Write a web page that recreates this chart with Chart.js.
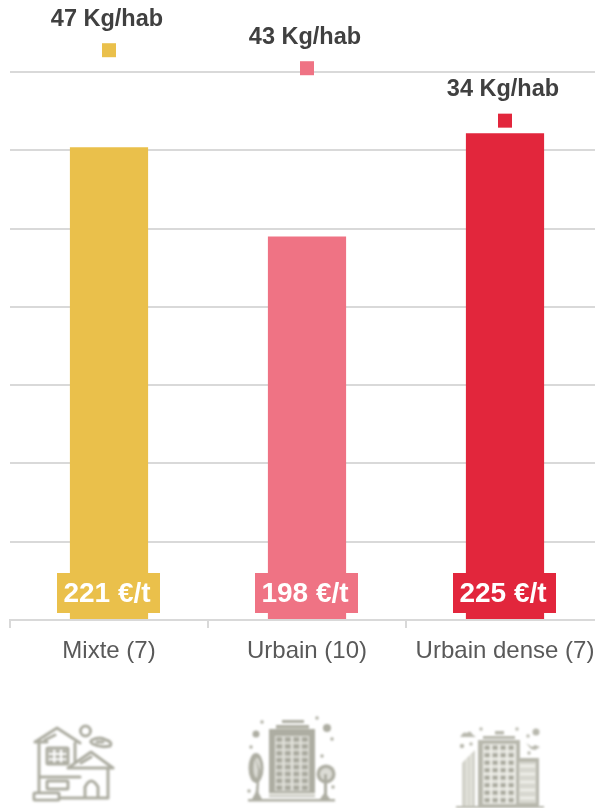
<!DOCTYPE html>
<html>
<head>
<meta charset="utf-8">
<script src="https://cdn.jsdelivr.net/npm/chart.js@4"></script>
<style>
html,body{margin:0;padding:0;background:#fff;overflow:hidden;width:595px;height:808px}
#wrap{position:absolute;left:0;top:0;width:595px;height:808px;overflow:hidden}
canvas{position:absolute;left:0;top:0}
svg{position:absolute;left:0;top:0}
</style>
</head>
<body>
<div id="wrap">
<canvas id="c" width="620" height="808"></canvas>
<svg width="595" height="808" viewBox="0 0 595 808" xmlns="http://www.w3.org/2000/svg">
<defs>
<filter id="b" x="-5%" y="-5%" width="110%" height="110%"><feGaussianBlur stdDeviation="1"/></filter>
<pattern id="g2" x="275" y="736" width="8.5" height="6.9" patternUnits="userSpaceOnUse"><rect x="1.300" y="1" width="6" height="5" fill="#a9a99e"/></pattern>
<pattern id="g3" x="483" y="744" width="8" height="7.5" patternUnits="userSpaceOnUse"><rect x="1.400" y="1.400" width="5.400" height="4.600" fill="#a9a99e"/></pattern>
<pattern id="g1" x="47.5" y="748.5" width="6.8" height="5.4" patternUnits="userSpaceOnUse"><rect x="1.200" y="1" width="4.400" height="3.400" fill="#b0b0a6"/></pattern>
</defs>
<g filter="url(#b)" fill="none" stroke="#adada2" stroke-width="3" stroke-linejoin="round" stroke-linecap="round">
<path d="M35 742 L57 728 L80 743 M35 742 H47 M55 735 L45 740 M39 742 V793 M75 743 V762 M68 768 L91 752 L113 768 Z M81 763 L91 757 M108 768 V798 M39 777 H80 M39 798 H108 M85 798 V787 Q91 775 98 787 V798"/>
<rect x="47" y="748" width="21" height="16" rx="1" fill="url(#g1)"/>
<rect x="47" y="781" width="21" height="8" rx="1"/>
<rect x="34" y="793" width="25" height="7" rx="1" fill="#fff"/>
<circle cx="85.500" cy="731" r="5"/>
<path d="M92 740 Q100 736 106 740 Q113 742 110 746 Q100 748 93 744 Q89 742 92 740 Z M97 742 H103"/>
</g>
<g filter="url(#b)" fill="#adada2">
<rect x="282" y="720" width="22" height="3"/>
<rect x="276" y="725" width="33" height="3.500"/>
<rect x="269" y="729" width="46" height="68"/>
<rect x="275" y="736" width="34" height="55" fill="#e2e2db"/>
<rect x="275" y="736" width="34" height="55" fill="url(#g2)"/>
<rect x="248" y="799" width="87" height="2.500"/>
<rect x="269" y="793" width="46" height="3" fill="#e2e2db"/>
<ellipse cx="256" cy="768" rx="7.500" ry="15"/>
<ellipse cx="257" cy="768" rx="3.500" ry="10" fill="#dcdcd5"/>
<path d="M255 757 L258 770 L255 799 H258 L260 770 Z"/>
<circle cx="326" cy="774" r="9.500"/>
<circle cx="326" cy="774" r="6" fill="#dcdcd5"/>
<path d="M324 774 H327 V799 H324 Z M320 799 L325 792 L330 799 Z"/>
<path d="M252 799 L257 790 L262 799 Z"/>
<circle cx="256" cy="734" r="3.500"/>
<circle cx="327" cy="728" r="4"/>
<circle cx="262" cy="722" r="1.700"/>
<circle cx="317" cy="718" r="1.700"/>
<circle cx="332" cy="739" r="1.700"/>
<circle cx="251" cy="747" r="1.700"/>
<circle cx="322" cy="756" r="1.700"/>
<circle cx="249" cy="791" r="1.700"/>
<circle cx="333" cy="787" r="1.700"/>
</g>
<g filter="url(#b)" fill="#b8b8ad">
<rect x="495" y="731" width="9" height="3.500"/>
<rect x="483" y="736" width="32" height="3"/>
<rect x="478" y="740" width="42" height="68"/>
<rect x="483" y="744" width="33" height="60" fill="#eeeee8"/>
<rect x="483" y="744" width="33" height="60" fill="url(#g3)"/>
<path d="M462 763 L475 750 V808 H462 Z" fill="#d3d3cb"/>
<path d="M467 759 V808 M471 755 V808" stroke="#eeeee8" stroke-width="1.200" fill="none"/>
<rect x="516" y="758" width="23" height="48"/>
<rect x="519" y="762" width="17" height="41" fill="#d8d8d0"/>
<path d="M520 766 H535 M520 774 H535 M520 782 H535 M520 790 H535 M520 798 H535" stroke="#f0f0ea" stroke-width="2.400" fill="none"/>
<rect x="456" y="806" width="88" height="2"/>
<path d="M461 736 Q463 731 467 733 Q470 729 473 735 L476 737 H460 Z"/>
<circle cx="536" cy="732" r="3.500"/>
<circle cx="481" cy="729" r="1.700"/>
<circle cx="517" cy="729" r="1.700"/>
<circle cx="528" cy="736" r="1.700"/>
<circle cx="462" cy="746" r="2.200"/>
<circle cx="471" cy="744" r="1.700"/>
<circle cx="529" cy="753" r="1.700"/>
<path d="M526 743 L532 747 L535 745 L540 747 L535 750 L531 749 Z"/>
</g>
</svg>
</div>
<script>
const categories = ['Mixte (7)', 'Urbain (10)', 'Urbain dense (7)'];
const barValues = [302, 245, 311];
const markerValues = [364, 352.5, 319];
const priceLabels = ['221 €/t', '198 €/t', '225 €/t'];
const weightLabels = ['47 Kg/hab', '43 Kg/hab', '34 Kg/hab'];
const colors = ['#EAC04B', '#EF7384', '#E2263C'];

const labelPlugin = {
  id: 'labelPlugin',
  afterDatasetsDraw(chart) {
    const { ctx, scales } = chart;
    const bars = chart.getDatasetMeta(0).data;
    const pts = chart.getDatasetMeta(1).data;
    ctx.save();
    ctx.textAlign = 'center';
    ctx.textBaseline = 'middle';
    bars.forEach((b, i) => {
      const base = scales.y.getPixelForValue(0);
      ctx.fillStyle = colors[i];
      ctx.fillRect(Math.round(b.x - 52), base - 47, 103, 40);
      ctx.fillStyle = '#fff';
      ctx.font = 'bold 28px "Liberation Sans", Arial, sans-serif';
      ctx.fillText(priceLabels[i], b.x - 2, base - 26);
    });
    pts.forEach((p, i) => {
      ctx.fillStyle = '#404040';
      ctx.font = 'bold 23.5px "Liberation Sans", Arial, sans-serif';
      ctx.fillText(weightLabels[i], p.x - 2, p.y - 31);
    });
    ctx.restore();
  }
};

new Chart(document.getElementById('c'), {
  data: {
    labels: categories,
    datasets: [
      { type: 'bar', data: barValues, backgroundColor: colors, barPercentage: 0.395, categoryPercentage: 1, order: 2 },
      { type: 'line', data: markerValues, showLine: false, pointStyle: 'rect', pointRadius: 9.9, pointHoverRadius: 9.9,
        pointBackgroundColor: colors, pointBorderWidth: 0, clip: false, order: 1 }
    ]
  },
  options: {
    responsive: false,
    animation: false,
    layout: { padding: { left: 10, right: 16, top: 33, bottom: 0 } },
    plugins: { legend: { display: false }, tooltip: { enabled: false } },
    scales: {
      x: {
        afterFit(s) { s.height = 188; },
        grid: { drawOnChartArea: false, color: '#d9d9d9', lineWidth: 2, tickLength: 8, offset: true },
        border: { color: '#d9d9d9', width: 2 },
        ticks: { color: '#595959', padding: 9, maxRotation: 0, autoSkip: false,
          font: { family: '"Liberation Sans", Arial, sans-serif', size: 24 } }
      },
      y: {
        min: 0, max: 375,
        afterFit(s) { s.width = 0; },
        ticks: { display: false, stepSize: 50, includeBounds: false },
        grid: { color: '#d9d9d9', lineWidth: 2, drawTicks: false },
        border: { display: false }
      }
    }
  },
  plugins: [labelPlugin]
});
</script>
</body>
</html>
